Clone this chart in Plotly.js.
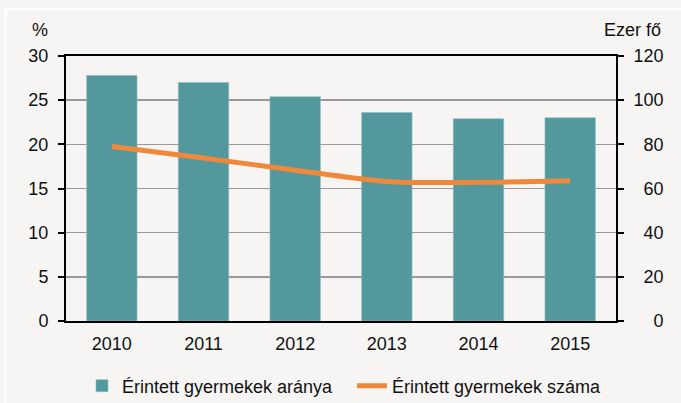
<!DOCTYPE html>
<html>
<head>
<meta charset="utf-8">
<script src="https://cdn.plot.ly/plotly-3.0.1.min.js"></script>
<style>html,body{margin:0;padding:0;background:#f6f5f3;}#chart{width:681px;height:403px;}</style>
</head>
<body>
<div id="chart"></div>
<script>
var years = ['2010', '2011', '2012', '2013', '2014', '2015'];
var shareValues = [27.8, 27.0, 25.4, 23.6, 22.9, 23.0];
var countValues = [79.0, 73.8, 68.3, 63.2, 62.8, 63.5];
var leftTicks = [0, 5, 10, 15, 20, 25, 30];
var rightTicks = [0, 20, 40, 60, 80, 100, 120];
var shareName = 'Érintett gyermekek aránya';
var countName = 'Érintett gyermekek száma';

var W = 681, H = 403;
var L = 66, R = 616, T = 56, B = 321;
var pw = R - L, ph = B - T;
function px(x) { return (x - L) / pw; }
function py(y) { return (B - y) / ph; }

var FONT = 'Liberation Sans, Arial, sans-serif';
var FIG = '\u2007';
function pad(v) { var s = String(v); while (s.length < 3) s = FIG + s; return s; }

var traces = [
  {
    type: 'bar', x: years, y: shareValues, name: shareName,
    marker: { color: '#52989d', line: { color: '#8dbcc0', width: 0.6 } },
    width: 0.55, yaxis: 'y', hoverinfo: 'x+y'
  },
  {
    type: 'scatter', mode: 'lines', x: years, y: countValues, name: countName,
    line: { color: '#f0883b', width: 5, shape: 'spline', smoothing: 0.8 },
    yaxis: 'y2', hoverinfo: 'x+y'
  }
];

var layout = {
  width: W, height: H,
  margin: { l: L, r: W - R, t: T, b: H - B, pad: 0 },
  paper_bgcolor: '#f6f5f3', plot_bgcolor: '#f6f5f3',
  font: { family: FONT, size: 18, color: '#111' },
  showlegend: true,
  bargap: 0.45,
  xaxis: {
    type: 'category', range: [-0.5, 5.5], showgrid: false,
    showline: true, linecolor: '#000', linewidth: 2, mirror: true,
    ticks: '', ticklabelstandoff: 5,
    tickfont: { family: FONT, size: 18, color: '#111' }, zeroline: false
  },
  yaxis: {
    range: [0, 30], tickvals: leftTicks, ticktext: leftTicks.map(String),
    showline: true, linecolor: '#000', linewidth: 2,
    ticks: 'outside', ticklen: 6, tickwidth: 2, tickcolor: '#000',
    ticklabelstandoff: 6,
    showgrid: true, gridcolor: '#999', gridwidth: 1.5, zeroline: false,
    tickfont: { family: FONT, size: 18, color: '#111' }
  },
  yaxis2: {
    range: [0, 120], tickvals: rightTicks, ticktext: rightTicks.map(pad),
    overlaying: 'y', side: 'right',
    showline: true, linecolor: '#000', linewidth: 2,
    ticks: 'outside', ticklen: 6, tickwidth: 2, tickcolor: '#000',
    ticklabelstandoff: 6,
    showgrid: false, zeroline: false,
    tickfont: { family: FONT, size: 18, color: '#111' }
  },
  legend: {
    orientation: 'h', xref: 'container', yref: 'container',
    x: 82 / W, xanchor: 'left', y: 1 - 386 / H, yanchor: 'middle',
    entrywidth: 225, entrywidthmode: 'pixels',
    bgcolor: 'rgba(0,0,0,0)', borderwidth: 0,
    font: { family: FONT, size: 18, color: '#111' }
  },
  annotations: [
    { text: '%', xref: 'paper', yref: 'paper', x: px(40), y: py(30), xanchor: 'center', yanchor: 'middle',
      showarrow: false, font: { family: FONT, size: 18, color: '#111' } },
    { text: 'Ezer fő', xref: 'paper', yref: 'paper', x: px(663), y: py(30), xanchor: 'right', yanchor: 'middle',
      showarrow: false, font: { family: FONT, size: 18, color: '#111' } }
  ],
  shapes: [
    { type: 'rect', xref: 'paper', yref: 'paper', x0: px(5.5), x1: px(720), y0: py(9.5), y1: py(440),
      line: { color: '#ffffff', width: 2 }, fillcolor: 'rgba(0,0,0,0)', layer: 'below' }
  ]
};

Plotly.newPlot('chart', traces, layout, { displayModeBar: false, staticPlot: true });
</script>
</body>
</html>
